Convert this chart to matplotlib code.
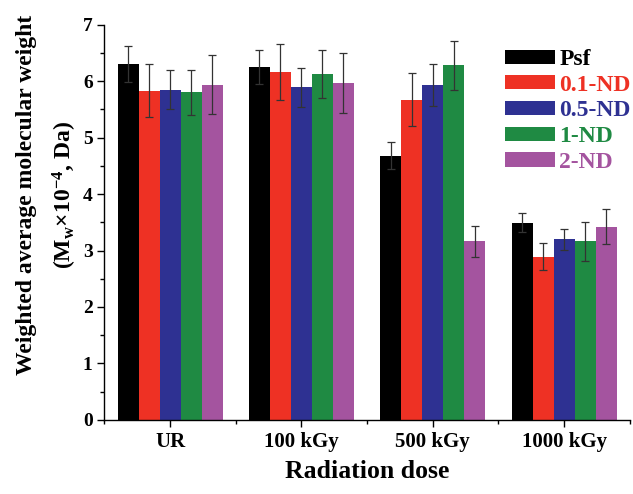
import matplotlib
matplotlib.use("Agg")
import matplotlib.pyplot as plt
from matplotlib.ticker import MultipleLocator
import numpy as np

plt.rcParams["font.family"] = ["Liberation Serif", "DejaVu Serif"]
plt.rcParams["font.weight"] = "bold"
plt.rcParams["mathtext.fontset"] = "custom"
plt.rcParams["mathtext.rm"] = "Liberation Serif:bold"
plt.rcParams["mathtext.it"] = "Liberation Serif:bold"
plt.rcParams["mathtext.bf"] = "Liberation Serif:bold"

doses = ["UR", "100 kGy", "500 kGy", "1000 kGy"]
series = ["Psf", "0.1-ND", "0.5-ND", "1-ND", "2-ND"]
colors = ["#000000", "#ee3124", "#2e3192", "#1f8a43", "#a4549f"]

psf = [6.31, 6.25, 4.68, 3.49]
nd01 = [5.83, 6.16, 5.67, 2.89]
nd05 = [5.85, 5.89, 5.93, 3.20]
nd1 = [5.80, 6.13, 6.28, 3.16]
nd2 = [5.94, 5.97, 3.16, 3.42]

psf_err = [0.32, 0.30, 0.24, 0.17]
nd01_err = [0.47, 0.49, 0.47, 0.24]
nd05_err = [0.35, 0.35, 0.37, 0.19]
nd1_err = [0.40, 0.42, 0.43, 0.35]
nd2_err = [0.53, 0.53, 0.28, 0.31]

values = [psf, nd01, nd05, nd1, nd2]
errors = [psf_err, nd01_err, nd05_err, nd1_err, nd2_err]

fig = plt.figure(figsize=(6.33, 4.94), dpi=100)
ax = fig.add_axes([0.165, 0.150, 0.830, 0.800])

x = np.arange(len(doses))
w = 0.16
for i, (name, vals, errs, c) in enumerate(zip(series, values, errors, colors)):
    ax.bar(x + (i - 2) * w, vals, w, color=c, label=name,
           yerr=errs, ecolor="#333333",
           error_kw=dict(elinewidth=0.9, capsize=3, capthick=0.9))

ax.set_xlim(-0.5, 3.5)
ax.set_ylim(0, 7)
ax.set_xticks(x)
ax.set_xticklabels(doses, fontsize=15)
ax.set_xticks(np.arange(-0.5, 3.6, 1.0), minor=True)
ax.yaxis.set_major_locator(MultipleLocator(1))
ax.yaxis.set_minor_locator(MultipleLocator(0.5))
ax.tick_params(axis="both", which="major", length=5, width=1.0)
ax.tick_params(axis="y", which="major", labelsize=14)
ax.tick_params(axis="both", which="minor", length=3, width=1.0)
ax.spines["top"].set_visible(False)
ax.spines["right"].set_visible(False)
ax.spines["left"].set_linewidth(1.0)
ax.spines["bottom"].set_linewidth(1.0)

ax.set_xlabel("Radiation dose", fontsize=18.5, fontweight="bold", labelpad=6)
ax.set_ylabel("Weighted average molecular weight\n"
              r"(M$_\mathrm{w}$×10$^{-4}$, Da)",
              fontsize=17, fontweight="bold", labelpad=2.5, linespacing=1.7)
ax.yaxis.label.set_y(0.57)

leg = ax.legend(loc="upper left", bbox_to_anchor=(505 / 633, 1 - 49 / 494),
                bbox_transform=fig.transFigure, frameon=False,
                borderpad=0, borderaxespad=0,
                fontsize=17, handlelength=2.1, handleheight=0.55,
                handletextpad=0.2, labelspacing=0.2)
for txt, c in zip(leg.get_texts(), colors):
    txt.set_color(c)
    txt.set_fontweight("bold")

fig.savefig("out.png", dpi=100)
